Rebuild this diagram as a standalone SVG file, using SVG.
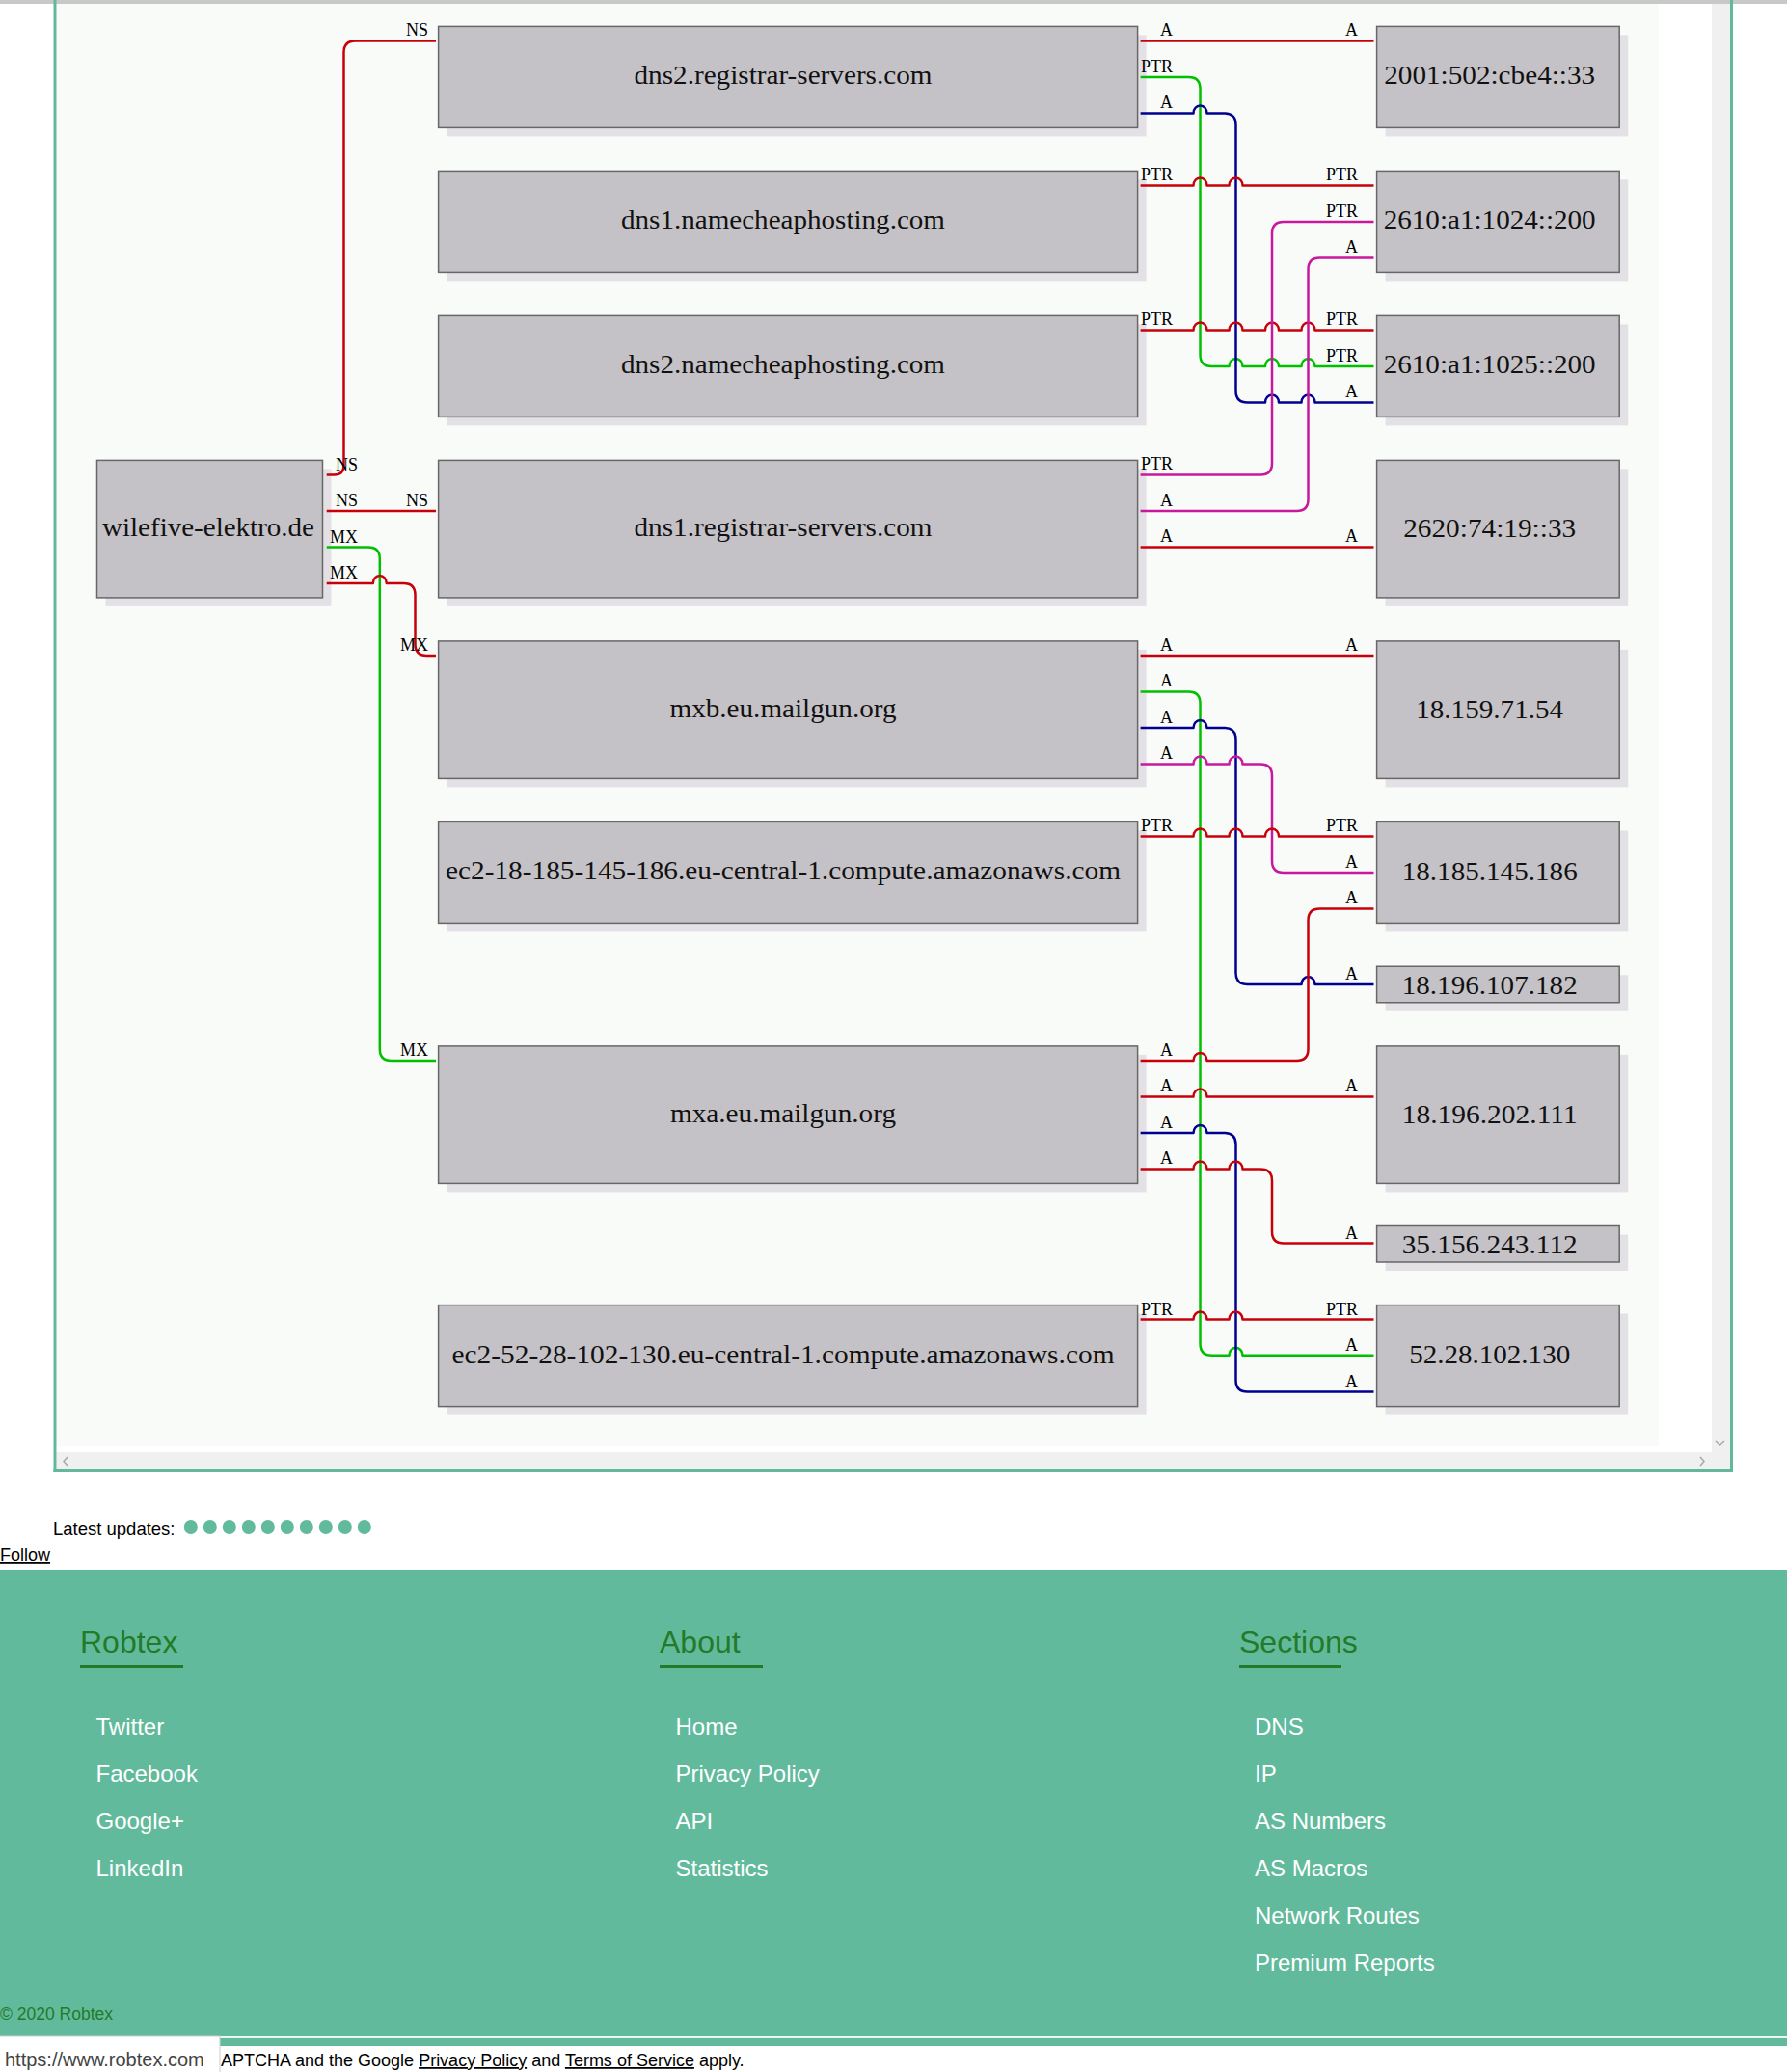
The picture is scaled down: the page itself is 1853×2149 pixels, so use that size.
<svg xmlns="http://www.w3.org/2000/svg" width="1853" height="2149" viewBox="0 0 1853 2149">
<style>
.box{fill:#c4c2c6;stroke:#676767;stroke-width:1.5}
.sh{fill:#e3e1e5}
.nl{font-family:"Liberation Serif",serif;font-size:27.5px;text-anchor:middle;fill:#111}
.el{font-family:"Liberation Serif",serif;font-size:18px;text-anchor:end;fill:#000}
.e{fill:none;stroke-width:2.5;stroke-linejoin:round}
.r{stroke:#c8000a}.g{stroke:#00c000}.b{stroke:#000090}.m{stroke:#c8189e}
.ft{font-family:"Liberation Sans",sans-serif}
.hd{font-size:32px;fill:#237a28}
.it{font-size:24px;fill:#ffffff}
.sb{fill:#f0f0f0}
.chev{fill:none;stroke:#a8a8a8;stroke-width:1.5}
</style>
<rect x="0" y="0" width="1853" height="2149" fill="#ffffff"/>
<rect x="0" y="0" width="1853" height="4" fill="#c8c8c8"/>
<!-- container -->
<g id="container">
<rect x="58.5" y="4" width="1661.5" height="1496" fill="#f9fbf9"/>
<rect class="sb" x="1775" y="4" width="19" height="1502"/>
<rect class="sb" x="58.5" y="1506" width="1735.5" height="18.5"/>
<polyline class="chev" points="70,1511 66,1515.5 70,1520"/>
<polyline class="chev" points="1763,1511 1767,1515.5 1763,1520"/>
<polyline class="chev" points="1779,1495 1783.5,1499 1788,1495"/>
<rect x="55.5" y="0" width="3" height="1527" fill="#62b89c"/>
<rect x="1794" y="0" width="3" height="1527" fill="#62b89c"/>
<rect x="55.5" y="1524" width="1741.5" height="3" fill="#62b89c"/>
</g>

<!-- nodes -->
<g id="n-wilefive"><rect class="sh" x="109.5" y="486.4" width="234" height="142.5"/><rect class="box" x="100.5" y="477.4" width="234" height="142.5"/><text class="nl" x="216" y="556.2" textLength="220" lengthAdjust="spacingAndGlyphs">wilefive-elektro.de</text></g>

<g id="n-dns2-registrar"><rect class="sh" x="463.6" y="36.4" width="725" height="105"/><rect class="box" x="454.6" y="27.4" width="725" height="105"/><text class="nl" x="812" y="87.4" textLength="309" lengthAdjust="spacingAndGlyphs">dns2.registrar-servers.com</text></g>
<g id="n-dns1-namecheap"><rect class="sh" x="463.6" y="186.4" width="725" height="105"/><rect class="box" x="454.6" y="177.4" width="725" height="105"/><text class="nl" x="812" y="237.4" textLength="336" lengthAdjust="spacingAndGlyphs">dns1.namecheaphosting.com</text></g>
<g id="n-dns2-namecheap"><rect class="sh" x="463.6" y="336.4" width="725" height="105"/><rect class="box" x="454.6" y="327.4" width="725" height="105"/><text class="nl" x="812" y="387.4" textLength="336" lengthAdjust="spacingAndGlyphs">dns2.namecheaphosting.com</text></g>
<g id="n-dns1-registrar"><rect class="sh" x="463.6" y="486.4" width="725" height="142.5"/><rect class="box" x="454.6" y="477.4" width="725" height="142.5"/><text class="nl" x="812" y="556.2" textLength="309" lengthAdjust="spacingAndGlyphs">dns1.registrar-servers.com</text></g>
<g id="n-mxb"><rect class="sh" x="463.6" y="673.9" width="725" height="142.5"/><rect class="box" x="454.6" y="664.9" width="725" height="142.5"/><text class="nl" x="812" y="743.7" textLength="235" lengthAdjust="spacingAndGlyphs">mxb.eu.mailgun.org</text></g>
<g id="n-ec2-18"><rect class="sh" x="463.6" y="861.4" width="725" height="105"/><rect class="box" x="454.6" y="852.4" width="725" height="105"/><text class="nl" x="812" y="912.4" textLength="700" lengthAdjust="spacingAndGlyphs">ec2-18-185-145-186.eu-central-1.compute.amazonaws.com</text></g>
<g id="n-mxa"><rect class="sh" x="463.6" y="1093.9" width="725" height="142.5"/><rect class="box" x="454.6" y="1084.9" width="725" height="142.5"/><text class="nl" x="812" y="1163.7" textLength="234" lengthAdjust="spacingAndGlyphs">mxa.eu.mailgun.org</text></g>
<g id="n-ec2-52"><rect class="sh" x="463.6" y="1362.6" width="725" height="105"/><rect class="box" x="454.6" y="1353.6" width="725" height="105"/><text class="nl" x="812" y="1413.6" textLength="687" lengthAdjust="spacingAndGlyphs">ec2-52-28-102-130.eu-central-1.compute.amazonaws.com</text></g>

<g id="n-2001"><rect class="sh" x="1436.6" y="36.4" width="251.6" height="105"/><rect class="box" x="1427.6" y="27.4" width="251.6" height="105"/><text class="nl" x="1544.7" y="87.4" textLength="219" lengthAdjust="spacingAndGlyphs">2001:502:cbe4::33</text></g>
<g id="n-2610-1024"><rect class="sh" x="1436.6" y="186.4" width="251.6" height="105"/><rect class="box" x="1427.6" y="177.4" width="251.6" height="105"/><text class="nl" x="1544.7" y="237.4" textLength="220" lengthAdjust="spacingAndGlyphs">2610:a1:1024::200</text></g>
<g id="n-2610-1025"><rect class="sh" x="1436.6" y="336.4" width="251.6" height="105"/><rect class="box" x="1427.6" y="327.4" width="251.6" height="105"/><text class="nl" x="1544.7" y="387.4" textLength="220" lengthAdjust="spacingAndGlyphs">2610:a1:1025::200</text></g>
<g id="n-2620"><rect class="sh" x="1436.6" y="486.4" width="251.6" height="142.5"/><rect class="box" x="1427.6" y="477.4" width="251.6" height="142.5"/><text class="nl" x="1544.7" y="557" textLength="179" lengthAdjust="spacingAndGlyphs">2620:74:19::33</text></g>
<g id="n-18-159"><rect class="sh" x="1436.6" y="673.9" width="251.6" height="142.5"/><rect class="box" x="1427.6" y="664.9" width="251.6" height="142.5"/><text class="nl" x="1544.7" y="744.5" textLength="153" lengthAdjust="spacingAndGlyphs">18.159.71.54</text></g>
<g id="n-18-185"><rect class="sh" x="1436.6" y="861.4" width="251.6" height="105"/><rect class="box" x="1427.6" y="852.4" width="251.6" height="105"/><text class="nl" x="1544.7" y="913" textLength="182" lengthAdjust="spacingAndGlyphs">18.185.145.186</text></g>
<g id="n-18-196-107"><rect class="sh" x="1436.6" y="1011.25" width="251.6" height="37.5"/><rect class="box" x="1427.6" y="1002.25" width="251.6" height="37.5"/><text class="nl" x="1544.7" y="1030.5" textLength="182" lengthAdjust="spacingAndGlyphs">18.196.107.182</text></g>
<g id="n-18-196-202"><rect class="sh" x="1436.6" y="1093.9" width="251.6" height="142.5"/><rect class="box" x="1427.6" y="1084.9" width="251.6" height="142.5"/><text class="nl" x="1544.7" y="1164.5" textLength="182" lengthAdjust="spacingAndGlyphs">18.196.202.111</text></g>
<g id="n-35-156"><rect class="sh" x="1436.6" y="1280.5" width="251.6" height="37.5"/><rect class="box" x="1427.6" y="1271.5" width="251.6" height="37.5"/><text class="nl" x="1544.7" y="1299.5" textLength="182" lengthAdjust="spacingAndGlyphs">35.156.243.112</text></g>
<g id="n-52-28"><rect class="sh" x="1436.6" y="1362.6" width="251.6" height="105"/><rect class="box" x="1427.6" y="1353.6" width="251.6" height="105"/><text class="nl" x="1544.7" y="1414.4" textLength="167" lengthAdjust="spacingAndGlyphs">52.28.102.130</text></g>

<!-- connectors -->
<g id="connectors">
<path class="e r" d="M338.7 492.4 H346.5 Q356.5 492.4 356.5 482.4 V54.4 Q356.5 42.4 368.5 42.4 H452"/>
<path class="e r" d="M338.7 529.9 H452"/>
<path class="e g" d="M338.7 567.4 H381.8 Q393.8 567.4 393.8 579.4 V1087.9 Q393.8 1099.9 405.8 1099.9 H452"/>
<path class="e r" d="M338.7 604.9 H386.8 A7 8 0 0 1 400.8 604.9 H418.5 Q430.5 604.9 430.5 616.9 V667.9 Q430.5 679.9 442.5 679.9 H452"/>

<path class="e r" d="M1182.6 42.4 H1424.5"/>
<path class="e g" d="M1182.6 79.9 H1232.5 Q1244.5 79.9 1244.5 91.9 V367.9 Q1244.5 379.9 1256.5 379.9 H1274.5 A7 8 0 0 1 1288.5 379.9 H1312 A7 8 0 0 1 1326 379.9 H1349.5 A7 8 0 0 1 1363.5 379.9 H1424.5"/>
<path class="e b" d="M1182.6 117.4 H1237.5 A7 8 0 0 1 1251.5 117.4 H1269.5 Q1281.5 117.4 1281.5 129.4 V405.4 Q1281.5 417.4 1293.5 417.4 H1312 A7 8 0 0 1 1326 417.4 H1349.5 A7 8 0 0 1 1363.5 417.4 H1424.5"/>
<path class="e r" d="M1182.6 192.4 H1237.5 A7 8 0 0 1 1251.5 192.4 H1274.5 A7 8 0 0 1 1288.5 192.4 H1424.5"/>
<path class="e r" d="M1182.6 342.4 H1237.5 A7 8 0 0 1 1251.5 342.4 H1274.5 A7 8 0 0 1 1288.5 342.4 H1312 A7 8 0 0 1 1326 342.4 H1349.5 A7 8 0 0 1 1363.5 342.4 H1424.5"/>
<path class="e m" d="M1182.6 492.4 H1307 Q1319 492.4 1319 480.4 V241.9 Q1319 229.9 1331 229.9 H1424.5"/>
<path class="e m" d="M1182.6 529.9 H1344.5 Q1356.5 529.9 1356.5 517.9 V279.4 Q1356.5 267.4 1368.5 267.4 H1424.5"/>
<path class="e r" d="M1182.6 567.4 H1424.5"/>

<path class="e r" d="M1182.6 679.9 H1424.5"/>
<path class="e g" d="M1182.6 717.4 H1232.5 Q1244.5 717.4 1244.5 729.4 V1393.8 Q1244.5 1405.8 1256.5 1405.8 H1274.5 A7 8 0 0 1 1288.5 1405.8 H1424.5"/>
<path class="e b" d="M1182.6 754.9 H1237.5 A7 8 0 0 1 1251.5 754.9 H1269.5 Q1281.5 754.9 1281.5 766.9 V1009 Q1281.5 1021 1293.5 1021 H1349.5 A7 8 0 0 1 1363.5 1021 H1424.5"/>
<path class="e m" d="M1182.6 792.4 H1237.5 A7 8 0 0 1 1251.5 792.4 H1274.5 A7 8 0 0 1 1288.5 792.4 H1307 Q1319 792.4 1319 804.4 V892.9 Q1319 904.9 1331 904.9 H1424.5"/>
<path class="e r" d="M1182.6 867.4 H1237.5 A7 8 0 0 1 1251.5 867.4 H1274.5 A7 8 0 0 1 1288.5 867.4 H1312 A7 8 0 0 1 1326 867.4 H1424.5"/>
<path class="e r" d="M1182.6 1099.9 H1237.5 A7 8 0 0 1 1251.5 1099.9 H1344.5 Q1356.5 1099.9 1356.5 1087.9 V954.4 Q1356.5 942.4 1368.5 942.4 H1424.5"/>
<path class="e r" d="M1182.6 1137.4 H1237.5 A7 8 0 0 1 1251.5 1137.4 H1424.5"/>
<path class="e b" d="M1182.6 1174.9 H1237.5 A7 8 0 0 1 1251.5 1174.9 H1269.5 Q1281.5 1174.9 1281.5 1186.9 V1431.6 Q1281.5 1443.6 1293.5 1443.6 H1424.5"/>
<path class="e r" d="M1182.6 1212.4 H1237.5 A7 8 0 0 1 1251.5 1212.4 H1274.5 A7 8 0 0 1 1288.5 1212.4 H1307 Q1319 1212.4 1319 1224.4 V1277.5 Q1319 1289.5 1331 1289.5 H1424.5"/>
<path class="e r" d="M1182.6 1368.6 H1237.5 A7 8 0 0 1 1251.5 1368.6 H1274.5 A7 8 0 0 1 1288.5 1368.6 H1424.5"/>

<g id="edge-labels">
<text class="el" x="371" y="488">NS</text><text class="el" x="444" y="37">NS</text>
<text class="el" x="371" y="525">NS</text><text class="el" x="444" y="525">NS</text>
<text class="el" x="371" y="562.5">MX</text><text class="el" x="444" y="1095">MX</text>
<text class="el" x="371" y="600">MX</text><text class="el" x="444" y="675">MX</text>

<text class="el" x="1216" y="37.4">A</text><text class="el" x="1408" y="37.4">A</text>
<text class="el" x="1216" y="74.9">PTR</text><text class="el" x="1408" y="374.9">PTR</text>
<text class="el" x="1216" y="112.4">A</text><text class="el" x="1408" y="412.4">A</text>
<text class="el" x="1216" y="187.4">PTR</text><text class="el" x="1408" y="187.4">PTR</text>
<text class="el" x="1216" y="337.4">PTR</text><text class="el" x="1408" y="337.4">PTR</text>
<text class="el" x="1216" y="487.4">PTR</text><text class="el" x="1408" y="224.9">PTR</text>
<text class="el" x="1216" y="524.9">A</text><text class="el" x="1408" y="262.4">A</text>
<text class="el" x="1216" y="562.4">A</text><text class="el" x="1408" y="562.4">A</text>

<text class="el" x="1216" y="674.9">A</text><text class="el" x="1408" y="674.9">A</text>
<text class="el" x="1216" y="712.4">A</text><text class="el" x="1408" y="1400.8">A</text>
<text class="el" x="1216" y="749.9">A</text><text class="el" x="1408" y="1016">A</text>
<text class="el" x="1216" y="787.4">A</text><text class="el" x="1408" y="899.9">A</text>
<text class="el" x="1216" y="862.4">PTR</text><text class="el" x="1408" y="862.4">PTR</text>
<text class="el" x="1216" y="1094.9">A</text><text class="el" x="1408" y="937.4">A</text>
<text class="el" x="1216" y="1132.4">A</text><text class="el" x="1408" y="1132.4">A</text>
<text class="el" x="1216" y="1169.9">A</text><text class="el" x="1408" y="1438.6">A</text>
<text class="el" x="1216" y="1207.4">A</text><text class="el" x="1408" y="1284.5">A</text>
<text class="el" x="1216" y="1363.6">PTR</text><text class="el" x="1408" y="1363.6">PTR</text>
</g>
</g>

<!-- below the graph -->
<g id="updates">
<text class="ft" x="55" y="1592" font-size="18.5" fill="#000">Latest updates:</text>
<g fill="#62ba9c">
<circle cx="197.8" cy="1584" r="7"/><circle cx="217.8" cy="1584" r="7"/><circle cx="237.8" cy="1584" r="7"/><circle cx="257.8" cy="1584" r="7"/><circle cx="277.8" cy="1584" r="7"/><circle cx="297.8" cy="1584" r="7"/><circle cx="317.8" cy="1584" r="7"/><circle cx="337.8" cy="1584" r="7"/><circle cx="357.8" cy="1584" r="7"/><circle cx="377.8" cy="1584" r="7"/>
</g>
<text class="ft" x="0" y="1619" font-size="18" fill="#000" text-decoration="underline">Follow</text>
</g>

<g id="footer">
<rect x="0" y="1628" width="1853" height="484" fill="#62ba9c"/>
<text class="ft hd" x="83" y="1714">Robtex</text>
<rect x="83" y="1727" width="107" height="3" fill="#237a28"/>
<text class="ft hd" x="684" y="1714">About</text>
<rect x="684" y="1727" width="107" height="3" fill="#237a28"/>
<text class="ft hd" x="1285" y="1714">Sections</text>
<rect x="1285" y="1727" width="106" height="3" fill="#237a28"/>
<text class="ft it" x="99.5" y="1799">Twitter</text>
<text class="ft it" x="99.5" y="1848">Facebook</text>
<text class="ft it" x="99.5" y="1897">Google+</text>
<text class="ft it" x="99.5" y="1946">LinkedIn</text>
<text class="ft it" x="700.5" y="1799">Home</text>
<text class="ft it" x="700.5" y="1848">Privacy Policy</text>
<text class="ft it" x="700.5" y="1897">API</text>
<text class="ft it" x="700.5" y="1946">Statistics</text>
<text class="ft it" x="1301" y="1799">DNS</text>
<text class="ft it" x="1301" y="1848">IP</text>
<text class="ft it" x="1301" y="1897">AS Numbers</text>
<text class="ft it" x="1301" y="1946">AS Macros</text>
<text class="ft it" x="1301" y="1995">Network Routes</text>
<text class="ft it" x="1301" y="2044">Premium Reports</text>
<text class="ft" x="0" y="2095" font-size="17.5" fill="#237a28">© 2020 Robtex</text>
<rect x="0" y="2112.5" width="1853" height="1.5" fill="#e8f4ef"/>
<rect x="0" y="2114" width="1853" height="8" fill="#62ba9c"/>
<rect x="0" y="2122" width="1853" height="27" fill="#ffffff"/>
<text class="ft" x="229" y="2143" font-size="18" fill="#000">APTCHA and the Google <tspan text-decoration="underline">Privacy Policy</tspan> and <tspan text-decoration="underline">Terms of Service</tspan> apply.</text>
<rect x="-1" y="2112" width="229" height="40" fill="#ffffff" stroke="#cccccc" stroke-width="1"/>
<text class="ft" x="5" y="2143" font-size="20" fill="#444">https://www.robtex.com</text>
</g>
</svg>
